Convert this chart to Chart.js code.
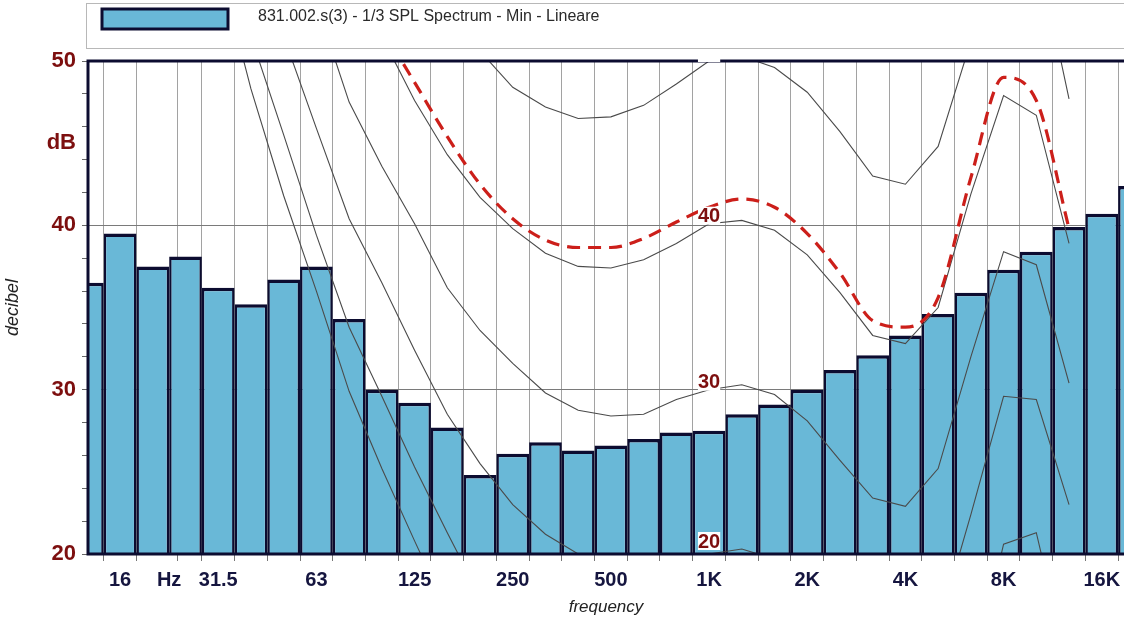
<!DOCTYPE html>
<html>
<head>
<meta charset="utf-8">
<script src="https://cdn.jsdelivr.net/npm/chart.js@4.4.1/dist/chart.umd.min.js"></script>
<style>
  html, body { margin: 0; padding: 0; background: #fff; }
  #wrap { position: relative; width: 1124px; height: 619px; }
</style>
</head>
<body>
<div id="wrap"><canvas id="spl"></canvas></div>
<script>
// 1/3 octave bands, index 0 = 12.5 Hz
const bands = ['12.5', '16', '20', '25', '31.5', '40', '50', '63', '80', '100', '125', '160', '200', '250', '315', '400',
  '500', '630', '800', '1K', '1.25K', '1.6K', '2K', '2.5K', '3.15K', '4K', '5K', '6.3K', '8K', '10K', '12.5K', '16K', '20K'];
const splMin = [36.5, 39.5, 37.5, 38.1, 36.2, 35.2, 36.7, 37.5, 34.3, 30.0, 29.2, 27.7, 24.8, 26.1, 26.8, 26.3,
  26.6, 27.0, 27.4, 27.5, 28.5, 29.1, 30.0, 31.2, 32.1, 33.3, 34.6, 35.9, 37.3, 38.4, 39.9, 40.7, 42.4];

// isophonic curves (dB per band, null = not drawn)
const N = null;
const curve50 = [N, N, N, N, N, N, N, N, N, N, N, 54.0, 50.6, 48.4, 47.2, 46.5,
  46.6, 47.3, 48.6, 50.0, 50.3, 49.6, 48.1, 45.7, 43.0, 42.5, 44.8, 51.2, 57.8, 57.0, 47.7, N, N];
const curveRed = [N, N, N, N, N, N, N, N, N, 52.0, 48.7, 45.4, 42.5, 40.4, 39.1, 38.65,
  38.65, 39.2, 40.2, 41.1, 41.6, 41.1, 39.5, 37.1, 34.2, 33.8, 35.6, 42.9, 49.0, 47.6, 39.8, N, N];
const curve40 = [N, N, N, N, N, N, N, N, N, 51.5, 47.6, 44.3, 41.7, 39.8, 38.3, 37.5,
  37.4, 37.9, 38.9, 40.1, 40.3, 39.7, 38.2, 35.9, 33.3, 32.8, 35.0, 41.9, 47.9, 46.7, 38.9, N, N];
const curve30 = [N, N, N, N, N, N, N, 53.5, 47.5, 43.6, 40.1, 36.2, 33.6, 31.6, 29.8, 28.75,
  28.4, 28.5, 29.4, 30.0, 30.3, 29.7, 28.1, 25.7, 23.4, 22.9, 25.2, 32.0, 38.4, 37.6, 30.4, N, N];
const curve20 = [N, N, N, N, N, N, 51.5, 45.9, 40.4, 36.5, 32.4, 28.5, 25.5, 23.0, 21.2, 20.0,
  18.8, 18.8, 19.5, 20.0, 20.3, 19.7, N, N, N, N, 15.5, 22.4, 29.6, 29.4, 23.0, N, N];
const curve10 = [N, N, N, N, N, 51.5, 45.5, 39.4, 33.8, 29.6, 25.3, 21.3, 17.4, N, N, N,
  N, N, N, N, N, N, N, N, N, N, N, 12.0, 20.6, 21.3, 12.8, N, N];
const curve0 = [N, N, N, N, 56.0, 48.3, 41.8, 36.0, 29.9, 25.2, 20.8, 16.5, N, N, N, N,
  N, N, N, N, N, N, N, N, N, N, N, N, N, N, N, N, N];

const curveLabels = ['50', '40', '30', '20'];
const labelCurves = [curve50, curve40, curve30, curve20];
const labelBand = 19; // 1K

const tickPos = [1, 2.5, 4, 7, 10, 13, 16, 19, 22, 25, 28, 31];
const tickText = ['16', 'Hz', '31.5', '63', '125', '250', '500', '1K', '2K', '4K', '8K', '16K'];
const xGrid = [1, 2, 2.5, 3, 4, 5, 6, 7, 8, 9, 10, 11, 12, 13, 14, 15, 16, 17, 18, 19, 20, 21, 22, 23, 24, 25, 26, 27, 28, 29, 30, 31];
const yTickVals = [20, 22, 24, 26, 28, 30, 32, 34, 36, 38, 40, 42, 44, 45, 46, 48, 50];
const yLabelPos = [20, 30, 40, 45, 50];
const yLabelText = ['20', '30', '40', 'dB', '50'];

const legendText = '831.002.s(3) - 1/3 SPL Spectrum - Min - Lineare';
const FONT = 'Arial, "Liberation Sans", sans-serif';
const barFill = '#69b8d7';
const edge = '#0c0c30';
const clear = 'rgba(0,0,0,0)';

const pts = arr => arr.map((v, i) => ({ x: i, y: v }));
const grayLine = arr => ({
  type: 'line', data: pts(arr), borderColor: '#4a4a4a', borderWidth: 1.1,
  pointRadius: 0, tension: 0, spanGaps: false, order: 1
});

const decor = {
  id: 'decor',
  beforeDraw(chart) {
    const { ctx, width, height } = chart;
    ctx.save();
    ctx.fillStyle = '#fff';
    ctx.fillRect(0, 0, width, height);
    ctx.strokeStyle = '#b8b8b8';
    ctx.lineWidth = 1;
    ctx.strokeRect(86.5, 3.5, width, 45);
    ctx.fillStyle = barFill;
    ctx.fillRect(102, 9, 126, 20);
    ctx.strokeStyle = edge;
    ctx.lineWidth = 3;
    ctx.strokeRect(102, 9, 126, 20);
    ctx.fillStyle = '#2a2a2a';
    ctx.font = '16px ' + FONT;
    ctx.textBaseline = 'middle';
    ctx.fillText(legendText, 258, 17);
    ctx.restore();
  },
  afterDatasetsDraw(chart) {
    const { ctx, chartArea: a, scales: { x, y } } = chart;
    ctx.save();
    ctx.strokeStyle = edge;
    ctx.lineWidth = 3;
    ctx.beginPath();
    ctx.moveTo(a.right, a.top);
    ctx.lineTo(a.left, a.top);
    ctx.lineTo(a.left, a.bottom);
    ctx.lineTo(a.right, a.bottom);
    ctx.stroke();

    // curve labels at 1K
    ctx.beginPath();
    ctx.rect(a.left, a.top - 3, a.right - a.left, a.bottom - a.top + 3);
    ctx.clip();
    ctx.font = 'bold 20px ' + FONT;
    ctx.textAlign = 'center';
    ctx.textBaseline = 'middle';
    const px = x.getPixelForValue(labelBand);
    curveLabels.forEach((t, k) => {
      const py = Math.min(y.getPixelForValue(labelCurves[k][labelBand]) - 8, a.bottom - 13);
      const w = ctx.measureText(t).width + 4;
      ctx.fillStyle = '#fff';
      ctx.fillRect(px - w / 2 + 2, py - 9, w - 4, 18);
      if (py > a.top) {
        ctx.fillStyle = '#7d0f0f';
        ctx.fillText(t, px, py + 1);
      }
    });
    ctx.restore();
  }
};

new Chart(document.getElementById('spl'), {
  type: 'bar',
  data: {
    datasets: [
      {
        type: 'line', data: pts(curveRed), borderColor: '#cc1f1a', borderWidth: 3.2,
        borderDash: [13, 8], pointRadius: 0, cubicInterpolationMode: 'monotone', order: 0
      },
      grayLine(curve50), grayLine(curve40), grayLine(curve30),
      grayLine(curve20), grayLine(curve10), grayLine(curve0),
      {
        type: 'bar', label: legendText, data: pts(splMin),
        backgroundColor: barFill, borderColor: edge,
        borderWidth: { top: 3.5, left: 2.5, right: 2.5, bottom: 0 }, borderSkipped: 'start',
        // the half-step "Hz" tick halves the ruler gap, so span two of them
        barPercentage: 1, categoryPercentage: 2, grouped: false, order: 2
      }
    ]
  },
  options: {
    responsive: true,
    maintainAspectRatio: false,
    animation: false,
    layout: { padding: { top: 61, left: 0, right: 0, bottom: 0 } },
    plugins: { legend: { display: false }, tooltip: { enabled: false } },
    scales: {
      x: {
        type: 'linear', min: 0.02, max: 31.68, offset: false,
        afterBuildTicks: s => { s.ticks = xGrid.map(v => ({ value: v })); },
        afterFit: s => { s.height = 65; s.paddingLeft = 0; s.paddingRight = 0; },
        grid: {
          color: c => (c.tick && c.tick.value % 1) ? clear : '#a2a2a2',
          tickColor: c => (c.tick && c.tick.value % 1) ? clear : '#777',
          lineWidth: 1, tickLength: 7
        },
        border: { display: false },
        ticks: {
          autoSkip: false, maxRotation: 0, padding: 7, color: '#15153f',
          font: { family: FONT, size: 20, weight: 'bold' },
          callback: v => { const k = tickPos.indexOf(v); return k < 0 ? '' : tickText[k]; }
        },
        title: {
          display: true, text: 'frequency', color: '#222',
          font: { family: FONT, size: 17, style: 'italic' }, padding: { top: 0, bottom: 2 }
        }
      },
      y: {
        min: 20, max: 50,
        afterBuildTicks: s => { s.ticks = yTickVals.map(v => ({ value: v })); },
        afterFit: s => { s.width = 88; s.paddingTop = 0; s.paddingBottom = 0; },
        grid: {
          color: c => (c.tick && (c.tick.value === 30 || c.tick.value === 40)) ? '#7a7a7a' : clear,
          tickColor: c => (c.tick && c.tick.value === 45) ? clear : '#666',
          tickLength: 6
        },
        border: { display: false },
        ticks: {
          padding: 6, color: '#7d0f0f',
          font: { family: FONT, size: 22, weight: 'bold' },
          callback: v => { const k = yLabelPos.indexOf(v); return k < 0 ? '' : yLabelText[k]; }
        },
        title: {
          display: true, text: 'decibel', color: '#222',
          font: { family: FONT, size: 18, style: 'italic' }, padding: { top: 2, bottom: 4 }
        }
      }
    }
  },
  plugins: [decor]
});
</script>
</body>
</html>
